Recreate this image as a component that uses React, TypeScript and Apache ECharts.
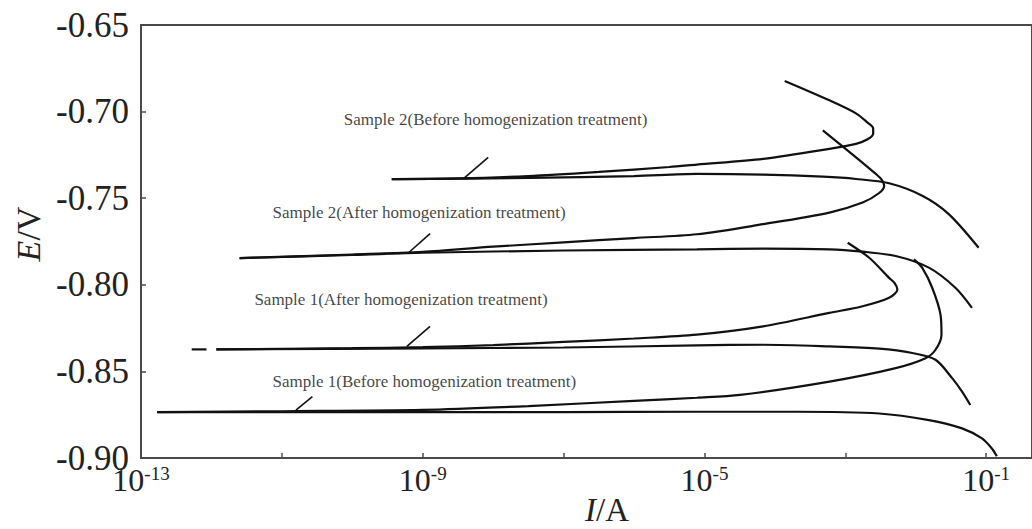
import React, { useEffect, useRef } from "react";
import * as echarts from "echarts";

// x values are log10(I/A), y values are E/V
const sample2BeforeAnodic: [number, number][] = [
  [-9.44, -0.739], [-8.5, -0.7386], [-7.5, -0.7372], [-6.5, -0.7348], [-5.5, -0.732],
  [-5.108, -0.7306], [-4.167, -0.7273], [-3.226, -0.7215], [-2.849, -0.7186], [-2.684, -0.716],
  [-2.605, -0.7126], [-2.605, -0.7097], [-2.684, -0.7064], [-2.849, -0.701], [-3.226, -0.6935],
  [-3.861, -0.6823],
];
const sample2BeforeCathodic: [number, number][] = [
  [-9.44, -0.739], [-7.5, -0.7383], [-6, -0.7372], [-5.108, -0.736], [-4.167, -0.7364],
  [-3.32, -0.7376], [-2.849, -0.7389], [-2.379, -0.7414], [-1.908, -0.7486], [-1.532, -0.7592],
  [-1.108, -0.7786],
];
const sample2AfterAnodic: [number, number][] = [
  [-11.6, -0.7846], [-10, -0.7825], [-9, -0.781], [-8, -0.778], [-7, -0.7755], [-6, -0.773],
  [-5.108, -0.7708], [-4.167, -0.765], [-3.226, -0.7583], [-2.755, -0.7525], [-2.52, -0.747],
  [-2.449, -0.7428], [-2.49, -0.739], [-2.567, -0.736], [-2.849, -0.7264], [-3.32, -0.7109],
];
const sample2AfterCathodic: [number, number][] = [
  [-11.6, -0.7846], [-10, -0.7828], [-9, -0.7815], [-7, -0.7802], [-5.108, -0.7795],
  [-4.167, -0.7791], [-3.226, -0.7795], [-2.755, -0.7809], [-2.285, -0.7834], [-1.814, -0.7901],
  [-1.438, -0.8017], [-1.202, -0.8133],
];
const sample1AfterAnodic: [number, number][] = [
  [-11.93, -0.8373], [-10, -0.8366], [-9, -0.836], [-8, -0.8348], [-7, -0.833], [-6, -0.831],
  [-5.108, -0.8288], [-4.167, -0.824], [-3.226, -0.8162], [-2.755, -0.8124], [-2.379, -0.8075],
  [-2.261, -0.8027], [-2.3, -0.799], [-2.379, -0.796], [-2.661, -0.7844], [-2.967, -0.7757],
];
const sample1AfterCathodic: [number, number][] = [
  [-11.93, -0.8373], [-9, -0.8367], [-7, -0.8362], [-5.108, -0.835], [-4.167, -0.8346],
  [-3.226, -0.8356], [-2.52, -0.8369], [-2.049, -0.8394], [-1.72, -0.8433], [-1.484, -0.8539],
  [-1.343, -0.8617], [-1.226, -0.8694],
];
const sample1AfterDash: [number, number][] = [[-12.28, -0.8373], [-12.07, -0.8373]];
const sample1BeforeAnodic: [number, number][] = [
  [-12.77, -0.8735], [-11, -0.873], [-9, -0.8722], [-7.5, -0.87], [-6, -0.867], [-5.108, -0.8652],
  [-4.496, -0.8636], [-3.226, -0.8559], [-2.285, -0.8481], [-1.861, -0.8424], [-1.72, -0.8375],
  [-1.635, -0.8288], [-1.649, -0.8172], [-1.767, -0.8017], [-1.908, -0.7902], [-2.026, -0.7853],
];
const sample1BeforeCathodic: [number, number][] = [
  [-12.77, -0.8735], [-9, -0.8735], [-7, -0.8735], [-5.108, -0.8733], [-3.696, -0.8733],
  [-2.52, -0.8743], [-1.814, -0.8781], [-1.343, -0.8829], [-1.061, -0.8887], [-0.92, -0.8945],
  [-0.849, -0.899],
];

const leaderLines: [number, number][][] = [
  [[-8.07, -0.7264], [-8.425, -0.7389]],
  [[-8.896, -0.7704], [-9.202, -0.7815]],
  [[-8.896, -0.824], [-9.225, -0.8356]],
  [[-10.567, -0.8646], [-10.8, -0.8723]],
];

const annotationTexts = [
  "Sample 2(Before homogenization treatment)",
  "Sample 2(After homogenization treatment)",
  "Sample 1(After homogenization treatment)",
  "Sample 1(Before homogenization treatment)",
];
const annotationPositions: [number, number][] = [
  [-10.12, -0.7048],
  [-11.132, -0.7585],
  [-11.39, -0.8087],
  [-11.132, -0.8558],
];

const xTickValues = [-13, -11, -9, -7, -5, -3, -1];
const xLabelValues = [-13, -9, -5, -1];

const SERIF = "'Liberation Serif', 'Times New Roman', serif";
const INK = "#111";
const FRAME = "#4a4a4a";

export default function App() {
  const ref = useRef<HTMLDivElement>(null);

  useEffect(() => {
    if (!ref.current) return;
    const chart = echarts.init(ref.current, undefined, { renderer: "svg" });

    const curve = (name: string, data: [number, number][], width = 2.2) => ({
      name,
      type: "line",
      data,
      showSymbol: false,
      symbol: "none",
      smooth: 0.3,
      lineStyle: { color: INK, width },
      silent: true,
      z: 3,
    });

    const series: any[] = [
      curve("s2b-a", sample2BeforeAnodic),
      curve("s2b-c", sample2BeforeCathodic),
      curve("s2a-a", sample2AfterAnodic),
      curve("s2a-c", sample2AfterCathodic),
      curve("s1a-a", sample1AfterAnodic),
      curve("s1a-c", sample1AfterCathodic),
      curve("s1a-d", sample1AfterDash),
      curve("s1b-a", sample1BeforeAnodic),
      curve("s1b-c", sample1BeforeCathodic),
      ...leaderLines.map((seg, i) => ({
        name: "leader" + i,
        type: "line",
        data: seg,
        symbol: "none",
        lineStyle: { color: INK, width: 1.6 },
        silent: true,
        z: 3,
      })),
      {
        name: "labels",
        type: "scatter",
        symbolSize: 0,
        silent: true,
        data: annotationPositions.map((p, i) => ({ value: p, name: annotationTexts[i] })),
        label: {
          show: true,
          position: "right",
          distance: 0,
          formatter: (p: any) => p.name,
          fontFamily: SERIF,
          fontSize: 17,
          color: INK,
        },
        z: 4,
      },
    ];

    chart.setOption({
      animation: false,
      backgroundColor: "#ffffff",
      grid: {
        left: 141,
        top: 25,
        width: 896,
        height: 433,
        show: true,
        borderColor: FRAME,
        borderWidth: 2,
      },
      xAxis: {
        type: "value",
        min: -13,
        max: -0.35,
        axisLine: { show: true, lineStyle: { color: FRAME, width: 2 } },
        axisTick: {
          show: true,
          inside: true,
          length: 5,
          customValues: xTickValues,
          lineStyle: { color: FRAME, width: 1.5 },
        },
        splitLine: { show: false },
        axisLabel: {
          customValues: xLabelValues,
          margin: 6,
          color: "#222",
          fontFamily: SERIF,
          formatter: (v: number) => `{b|10}{s|${v}}`,
          rich: {
            b: { fontSize: 32, lineHeight: 32, fontFamily: SERIF, color: "#222" },
            s: { fontSize: 19, lineHeight: 19, verticalAlign: "top", fontFamily: SERIF, color: "#222" },
          },
        },
      },
      yAxis: {
        type: "value",
        min: -0.9,
        max: -0.65,
        interval: 0.05,
        axisLine: { show: true, lineStyle: { color: FRAME, width: 2 } },
        axisTick: { show: true, inside: true, length: 5, lineStyle: { color: FRAME, width: 1.5 } },
        splitLine: { show: false },
        axisLabel: {
          margin: 12,
          fontSize: 35,
          fontFamily: SERIF,
          color: "#222",
          formatter: (v: number) => v.toFixed(2),
        },
      },
      graphic: [
        {
          type: "text",
          x: 28,
          y: 234,
          rotation: Math.PI / 2,
          style: {
            text: "{i|E}/V",
            align: "center",
            verticalAlign: "middle",
            font: `34px ${SERIF}`,
            fill: "#222",
            rich: {
              i: { fontStyle: "italic", fontSize: 34, fontFamily: SERIF, fill: "#222" },
            },
          },
        },
        {
          type: "text",
          x: 607,
          y: 510,
          style: {
            text: "{i|I}/A",
            align: "center",
            verticalAlign: "middle",
            font: `33px ${SERIF}`,
            fill: "#222",
            rich: {
              i: { fontStyle: "italic", fontSize: 33, fontFamily: SERIF, fill: "#222" },
            },
          },
        },
      ],
      series,
    });

    return () => chart.dispose();
  }, []);

  return (
    <div
      ref={ref}
      style={{ position: "absolute", left: 0, top: 0, width: 1032, height: 529 }}
    />
  );
}
